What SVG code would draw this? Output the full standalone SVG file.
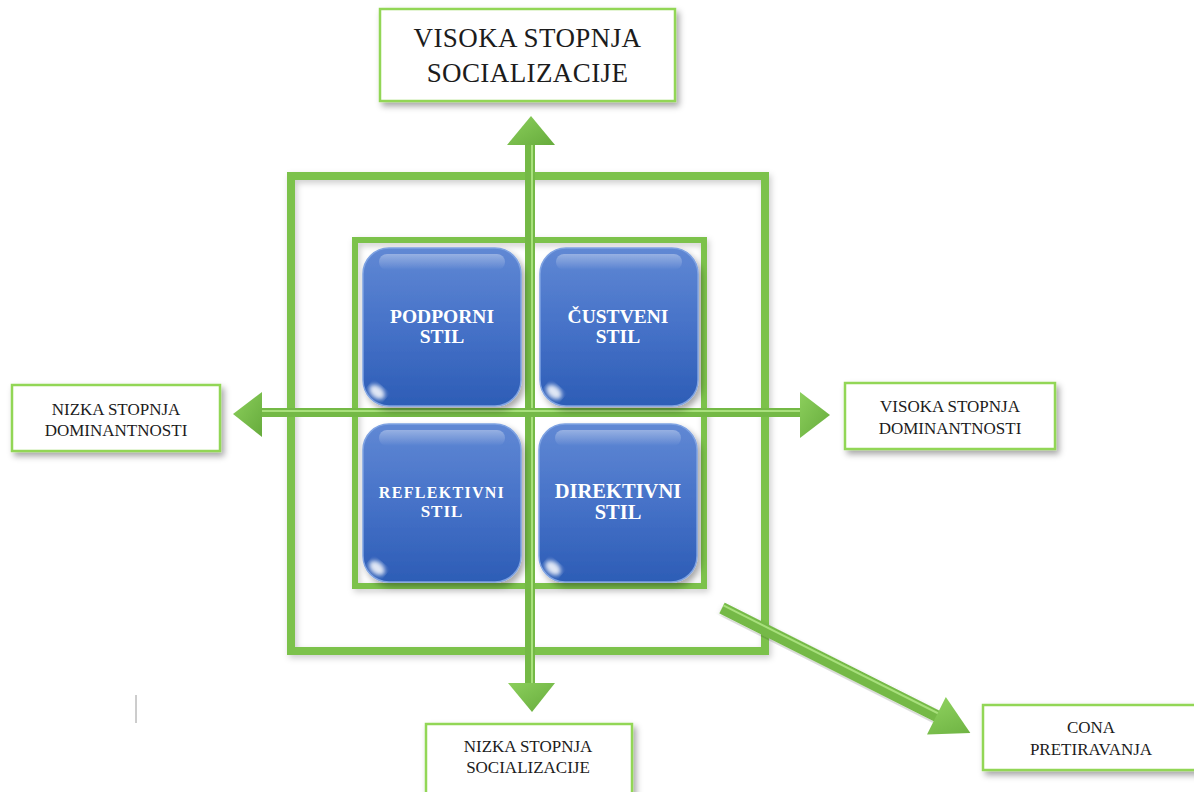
<svg xmlns="http://www.w3.org/2000/svg" xmlns:xlink="http://www.w3.org/1999/xlink" width="1194" height="792" viewBox="0 0 1194 792">
  <defs>
    <style>
      .lbl { font-family: "Liberation Serif", "Times New Roman", serif; fill: #1c1c1c; text-anchor: middle; }
      .big { font-size: 27px; letter-spacing: 0.4px; }
      .sm { font-size: 17px; }
      .tt { font-family: "Liberation Serif", "Times New Roman", serif; font-weight: bold; fill: #ffffff; text-anchor: middle; font-size: 19.5px; }
      .box { fill: #ffffff; stroke: #92d656; stroke-width: 2.5; filter: url(#shadow); }
      .frame { fill: none; stroke: #7cc24c; filter: url(#shadowSoft); }
      .shaft { fill: #74b946; }
      .shaftHi { fill: #a8e07c; }
      .head { fill: url(#headGrad); }
    </style>
    <filter id="shadow" x="-10%" y="-10%" width="125%" height="140%">
      <feDropShadow dx="3" dy="4" stdDeviation="3" flood-color="#000" flood-opacity="0.35"/>
    </filter>
    <filter id="shadowSoft" x="-10%" y="-10%" width="125%" height="125%">
      <feDropShadow dx="2" dy="3" stdDeviation="3" flood-color="#000" flood-opacity="0.2"/>
    </filter>
    <filter id="blur2"><feGaussianBlur stdDeviation="2"/></filter>
    <linearGradient id="tileGrad" x1="0" y1="0" x2="0" y2="1">
      <stop offset="0" stop-color="#6088d4"/>
      <stop offset="0.5" stop-color="#4672c8"/>
      <stop offset="1" stop-color="#2d5db6"/>
    </linearGradient>
    <linearGradient id="glossGrad" x1="0" y1="0" x2="0" y2="1">
      <stop offset="0" stop-color="#ffffff" stop-opacity="0.35"/>
      <stop offset="1" stop-color="#ffffff" stop-opacity="0"/>
    </linearGradient>
    <linearGradient id="headGrad" x1="0" y1="0" x2="1" y2="1">
      <stop offset="0" stop-color="#8ccf5c"/>
      <stop offset="1" stop-color="#66ab3c"/>
    </linearGradient>
    <!-- glossy blue tile, 158 x 158 -->
    <g id="tile">
      <rect x="0" y="0" width="158" height="158" rx="26" fill="url(#tileGrad)" stroke="#7ea2e2" stroke-width="1.5" filter="url(#shadow)"/>
      <rect x="16" y="6" width="126" height="16" rx="8" fill="url(#glossGrad)"/>
      <ellipse cx="14" cy="144" rx="9" ry="6" transform="rotate(40 14 144)" fill="#ffffff" opacity="0.85" filter="url(#blur2)"/>
    </g>
  </defs>

  <rect width="1194" height="792" fill="#ffffff"/>

  <!-- nested frames -->
  <g id="outer-frame">
    <rect class="frame" x="291" y="176" width="474" height="475" stroke-width="8"/>
  </g>
  <g id="inner-frame">
    <rect class="frame" x="355" y="240" width="349" height="346" stroke-width="6"/>
  </g>

  <!-- axes and arrows -->
  <g id="connectors">
    <!-- vertical axis -->
    <rect class="shaft" x="525" y="143" width="10" height="542"/>
    <rect class="shaftHi" x="531" y="143" width="2" height="542"/>
    <polygon class="head" points="531,116 555,145 507,145"/>
    <polygon class="head" points="508,683 555,683 532,712"/>
    <!-- horizontal axis -->
    <rect class="shaft" x="260" y="408" width="542" height="9"/>
    <rect class="shaftHi" x="260" y="410" width="542" height="2"/>
    <polygon class="head" points="233,414 262,392 262,437"/>
    <polygon class="head" points="830,415 800,392 800,438"/>
    <!-- diagonal arrow -->
    <g transform="translate(722 608) rotate(26.7)">
      <rect class="shaft" x="0" y="-6" width="243" height="12" filter="url(#shadowSoft)"/>
      <rect class="shaftHi" x="0" y="-4" width="243" height="2"/>
      <polygon class="head" points="240,-21 278,0 240,21"/>
    </g>
  </g>

  <!-- style tiles -->
  <g id="podporni">
    <use xlink:href="#tile" x="363" y="248"/>
    <text class="tt" x="442" y="323">PODPORNI</text>
    <text class="tt" x="442" y="343">STIL</text>
  </g>
  <g id="custveni">
    <use xlink:href="#tile" x="540" y="248"/>
    <text class="tt" x="618" y="323">ČUSTVENI</text>
    <text class="tt" x="618" y="343">STIL</text>
  </g>
  <g id="reflektivni">
    <use xlink:href="#tile" x="363" y="424"/>
    <text class="tt" x="442" y="498" style="font-size:16px; letter-spacing:1.3px">REFLEKTIVNI</text>
    <text class="tt" x="442" y="517" style="font-size:17px; letter-spacing:1px">STIL</text>
  </g>
  <g id="direktivni">
    <use xlink:href="#tile" x="539" y="424"/>
    <text class="tt" x="618" y="498" style="font-size:20.5px">DIREKTIVNI</text>
    <text class="tt" x="618" y="519" style="font-size:20.5px">STIL</text>
  </g>

  <!-- axis labels -->
  <g id="visoka-socializacija">
    <rect class="box" x="380" y="9" width="295" height="92"/>
    <text class="lbl big" x="527.5" y="47">VISOKA STOPNJA</text>
    <text class="lbl big" x="527.5" y="82">SOCIALIZACIJE</text>
  </g>
  <g id="nizka-dominantnost">
    <rect class="box" x="12" y="385" width="208" height="66"/>
    <text class="lbl sm" x="116" y="415">NIZKA STOPNJA</text>
    <text class="lbl sm" x="116" y="436">DOMINANTNOSTI</text>
  </g>
  <g id="visoka-dominantnost">
    <rect class="box" x="845" y="383" width="210" height="66"/>
    <text class="lbl sm" x="950" y="412">VISOKA STOPNJA</text>
    <text class="lbl sm" x="950" y="434">DOMINANTNOSTI</text>
  </g>
  <g id="nizka-socializacija">
    <rect class="box" x="426" y="724" width="206" height="80"/>
    <text class="lbl sm" x="528" y="752">NIZKA STOPNJA</text>
    <text class="lbl sm" x="528" y="773">SOCIALIZACIJE</text>
  </g>
  <g id="cona-pretiravanja">
    <rect class="box" x="983" y="705" width="215" height="65"/>
    <text class="lbl sm" x="1091" y="733">CONA</text>
    <text class="lbl sm" x="1091" y="755">PRETIRAVANJA</text>
  </g>

  <!-- stray cursor mark -->
  <line x1="136" y1="695" x2="136" y2="723" stroke="#9a9a9a" stroke-width="1"/>
</svg>
